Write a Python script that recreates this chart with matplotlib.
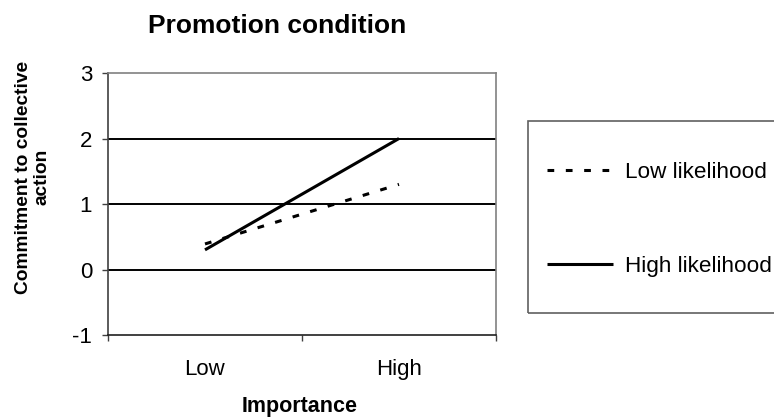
import matplotlib
matplotlib.use("Agg")
import matplotlib.pyplot as plt
from matplotlib.patches import Rectangle

plt.rcParams['font.family'] = ['Liberation Sans', 'DejaVu Sans']

categories = ["Low", "High"]
series_names = ["Low likelihood", "High likelihood"]
low_likelihood = [0.39, 1.30]
high_likelihood = [0.30, 2.00]
y_ticks = [-1, 0, 1, 2, 3]
title = "Promotion condition"
x_label = "Importance"
y_label = "Commitment to collective\naction"

W, H = 774, 419
fig = plt.figure(figsize=(W / 100, H / 100), dpi=100)
ax = fig.add_axes([108 / W, 1 - 335 / H, (496 - 108) / W, (335 - 73) / H])

xs = list(range(len(categories)))
ax.plot(xs, low_likelihood, color='black', lw=2.2, linestyle=(0, (2.2, 3.8)),
        label=series_names[0], dash_capstyle='butt')
ax.plot(xs, high_likelihood, color='black', lw=2.2, label=series_names[1],
        solid_capstyle='butt')

ax.set_xlim(-0.5, len(categories) - 0.5)
ax.set_ylim(y_ticks[0], y_ticks[-1])
ax.set_yticks(y_ticks)
ax.set_yticklabels([str(t) for t in y_ticks])
for t in y_ticks[1:-1]:
    ax.axhline(t, color='black', lw=1.4, zorder=1)

ax.set_xticks([i - 0.5 for i in range(len(categories) + 1)])
ax.set_xticklabels([])
ax.set_xticks(xs, minor=True)
ax.set_xticklabels(categories, minor=True)
ax.tick_params(axis='x', which='major', direction='out', length=4.5, width=1, color='#404040')
ax.tick_params(axis='x', which='minor', length=0, pad=17, labelsize=16)
ax.tick_params(axis='y', direction='out', length=4.5, width=1, color='#404040', pad=7, labelsize=16)

ax.spines['left'].set_color('#404040')
ax.spines['bottom'].set_color('#202020')
ax.spines['top'].set_color('#808080')
ax.spines['right'].set_color('#808080')
for s in ax.spines.values():
    s.set_linewidth(1.2)

fig.text(277 / W, 1 - 26 / H, title, ha='center', va='center', fontsize=19, fontweight='bold')
fig.text(300 / W, 1 - 406 / H, x_label, ha='center', va='center', fontsize=15.5, fontweight='bold')
fig.text(33 / W, 1 - 177 / H, y_label, ha='center', va='center', rotation=90,
         fontsize=13.8, fontweight='bold', linespacing=1.08, multialignment='center')

# legend frame
fig.patches.append(Rectangle((528 / W, 1 - 313 / H), (W + 5 - 528) / W, (313 - 121) / H,
                             transform=fig.transFigure, fill=False, edgecolor='#606060', lw=1.2))
handles, labels = ax.get_legend_handles_labels()
leg = fig.legend(handles, labels, loc='upper left', bbox_to_anchor=(547 / W, 1 - 162 / H),
                 frameon=False, fontsize=16.2, handlelength=2.95, handletextpad=0.5,
                 labelspacing=3.25, borderpad=0, borderaxespad=0)

fig.savefig("out.png", dpi=100)
